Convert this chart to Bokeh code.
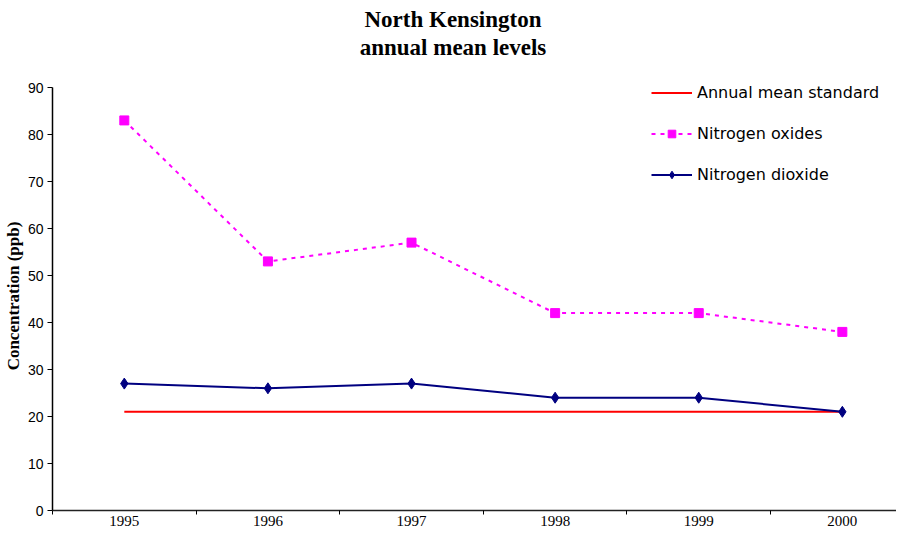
from bokeh.plotting import figure
from bokeh.layouts import column
from bokeh.models import FixedTicker, Legend, LegendItem, Range1d, Div
from bokeh.embed import file_html
from bokeh.resources import INLINE

years = [1995, 1996, 1997, 1998, 1999, 2000]
annual_standard = [21, 21, 21, 21, 21, 21]
nitrogen_oxides = [83, 53, 57, 42, 42, 38]
nitrogen_dioxide = [27, 26, 27, 24, 24, 21]
y_ticks = [0, 10, 20, 30, 40, 50, 60, 70, 80, 90]
title_lines = ["North Kensington", "annual mean levels"]

title_html = (
    '<div style="font-family:\'Liberation Serif\';font-weight:bold;font-size:23px;'
    'line-height:28px;text-align:center;width:896px;position:relative;left:5px;'
    'top:6px;color:black;white-space:nowrap;">'
    + "<br>".join(title_lines) + "</div>"
)
title_div = Div(text=title_html, width=896, height=72, margin=0)

p = figure(width=896, height=456, output_backend="svg", toolbar_location=None,
           x_range=Range1d(1994.5, 2000.377), y_range=Range1d(0, 91.28),
           min_border_left=45, min_border_right=0, min_border_top=9, min_border_bottom=0)
p.title = None
p.outline_line_color = None
p.xgrid.grid_line_color = None
p.ygrid.grid_line_color = None

p.xaxis.ticker = FixedTicker(ticks=years, minor_ticks=[1994.5 + i for i in range(7)])
p.xaxis.major_tick_line_color = None
p.xaxis.major_tick_out = 0
p.xaxis.major_tick_in = 0
p.xaxis.minor_tick_line_color = "black"
p.xaxis.minor_tick_out = 4
p.xaxis.minor_tick_in = 0
p.xaxis.axis_line_color = "#222222"
p.xaxis.axis_line_width = 1.5
p.xaxis.major_label_text_font = "Liberation Serif"
p.xaxis.major_label_text_font_size = "15px"
p.xaxis.major_label_text_color = "black"
p.xaxis.major_label_standoff = 1

p.yaxis.ticker = FixedTicker(ticks=y_ticks)
p.yaxis.bounds = (0, 90)
p.yaxis.minor_tick_line_color = None
p.yaxis.major_tick_out = 5
p.yaxis.major_tick_in = 0
p.yaxis.axis_line_color = "black"
p.yaxis.axis_line_width = 1.5
p.yaxis.major_tick_line_color = "black"
p.yaxis.major_label_text_font = "Liberation Sans"
p.yaxis.major_label_text_font_size = "14px"
p.yaxis.major_label_text_color = "black"
p.yaxis.major_label_standoff = 4
p.yaxis.axis_label = "Concentration (ppb)"
p.yaxis.axis_label_text_font = "Liberation Serif"
p.yaxis.axis_label_text_font_size = "17px"
p.yaxis.axis_label_text_font_style = "bold"
p.yaxis.axis_label_text_color = "black"
p.yaxis.axis_label_standoff = 2

r_std = p.line(years, annual_standard, line_color="#FF0000", line_width=2)
r_nox = p.line(years, nitrogen_oxides, line_color="#FF00FF", line_width=2, line_dash="4 5")
r_nox_m = p.scatter(years, nitrogen_oxides, marker="square", size=9,
                    fill_color="#FF00FF", line_color="#FF00FF")
r_no2 = p.line(years, nitrogen_dioxide, line_color="#000080", line_width=2)
r_no2_m = p.scatter(years, nitrogen_dioxide, marker="diamond", size=11,
                    fill_color="#000080", line_color="#000080")

legend = Legend(items=[
    LegendItem(label="Annual mean standard", renderers=[r_std]),
    LegendItem(label="Nitrogen oxides", renderers=[r_nox, r_nox_m]),
    LegendItem(label="Nitrogen dioxide", renderers=[r_no2, r_no2_m]),
], location=(599, 326))
legend.border_line_color = None
legend.background_fill_alpha = 0
legend.padding = 0
legend.margin = 0
legend.spacing = 22
legend.label_height = 19
legend.glyph_height = 19
legend.glyph_width = 41
legend.label_standoff = 5
legend.label_text_font = "DejaVu Sans"
legend.label_text_font_size = "16px"
legend.label_text_color = "black"
p.add_layout(legend, "center")

layout = column(title_div, p, spacing=0)
open("out.html", "w").write(file_html(layout, INLINE))
